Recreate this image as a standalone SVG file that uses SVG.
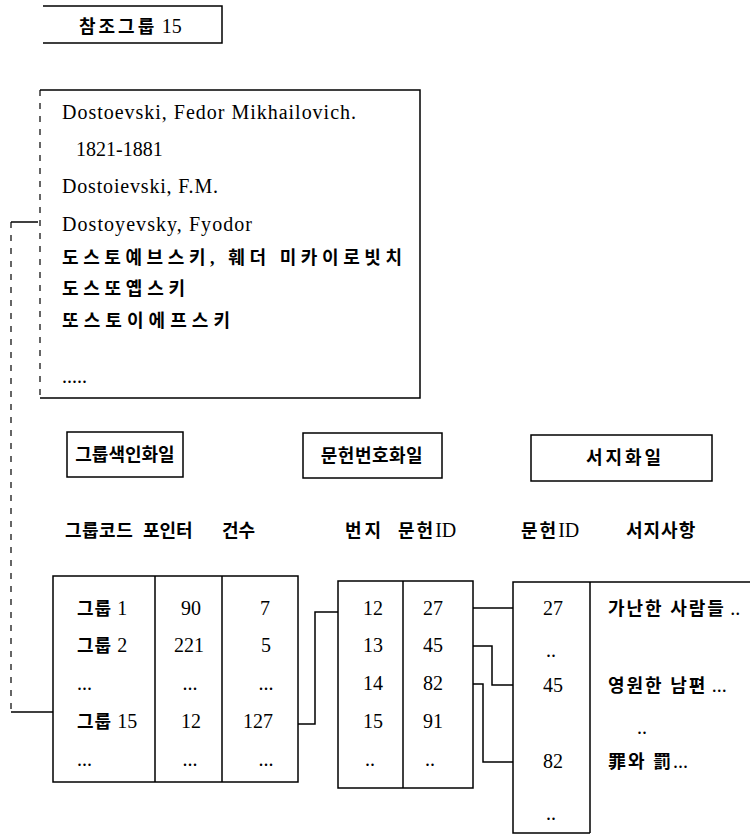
<svg xmlns="http://www.w3.org/2000/svg" width="750" height="837" viewBox="0 0 750 837">
<style>
.ln{stroke:#000;stroke-width:1.5;fill:none}
.dash{stroke:#000;stroke-width:1.2;fill:none;stroke-dasharray:6 7}
.t{font-family:"Liberation Serif","Noto Sans CJK KR",serif;font-size:20px;fill:#000}
.k{font-family:"Liberation Serif","Noto Sans CJK KR",sans-serif;font-size:18px;font-weight:bold;fill:#000}
.b{font-weight:bold;font-size:18px}
.n{font-weight:normal;font-size:20px;letter-spacing:0}
.m{text-anchor:middle}
</style>
<rect width="750" height="837" fill="#fff"/>
<g id="ref-group">
<path class="ln" d="M43,6 H222 V43 H43"/>
<text class="k" x="79" y="33"><tspan letter-spacing="3">참조그룹</tspan> <tspan class="n" font-size="19">15</tspan></text>
</g>
<g id="name-box">
<path class="ln" d="M40,90 H420 V398 H40"/>
<path class="dash" d="M40,90 V398"/>
<text class="t" x="62" y="119" textLength="294" lengthAdjust="spacing">Dostoevski, Fedor Mikhailovich.</text>
<text class="t" x="76" y="156">1821-1881</text>
<text class="t" x="62" y="193" textLength="156" lengthAdjust="spacing">Dostoievski, F.M.</text>
<text class="t" x="62" y="231" textLength="190" lengthAdjust="spacing">Dostoyevsky, Fyodor</text>
<text class="k" x="62" y="264" font-size="19" textLength="340" lengthAdjust="spacing">도스토예브스키, 훼더  미카이로빗치</text>
<text class="k" x="62" y="295" font-size="19" textLength="123" lengthAdjust="spacing">도스또옙스키</text>
<text class="k" x="62" y="327" font-size="19" textLength="168" lengthAdjust="spacing">또스토이에프스키</text>
<text class="t" x="62" y="383" font-size="12">.....</text>
</g>
<g id="group-index-label">
<rect class="ln" x="67" y="432" width="116" height="45"/>
<text class="k m" x="125" y="461" font-size="16">그룹색인화일</text>
</g>
<g id="doc-number-label">
<rect class="ln" x="303" y="433" width="139" height="45"/>
<text class="k m" x="372" y="462" font-size="16" letter-spacing="0.5">문헌번호화일</text>
</g>
<g id="biblio-label">
<rect class="ln" x="531" y="435" width="181" height="46"/>
<text class="k m" x="625" y="464" letter-spacing="3">서지화일</text>
</g>
<g id="headers">
<text class="k" x="65" y="537" letter-spacing="0.5">그룹코드</text>
<text class="k" x="143" y="537">포인터</text>
<text class="k" x="222" y="537">건수</text>
<text class="k" x="345" y="537" letter-spacing="3">번지</text>
<text class="k" x="398" y="537"><tspan letter-spacing="2">문헌</tspan><tspan class="n">ID</tspan></text>
<text class="k" x="521" y="537"><tspan letter-spacing="2">문헌</tspan><tspan class="n">ID</tspan></text>
<text class="k" x="626" y="537" letter-spacing="1">서지사항</text>
</g>
<g id="group-index-table">
<rect class="ln" x="53" y="576" width="245" height="206"/>
<path class="ln" d="M155,576 V782 M222,576 V782"/>
<text class="t" x="77" y="615"><tspan class="b" letter-spacing="1">그룹</tspan> 1</text>
<text class="t" x="77" y="652"><tspan class="b" letter-spacing="1">그룹</tspan> 2</text>
<text class="t" x="77" y="690" font-size="12">...</text>
<text class="t" x="77" y="728"><tspan class="b" letter-spacing="1">그룹</tspan> 15</text>
<text class="t" x="77" y="766" font-size="12">...</text>
<text class="t m" x="191" y="615">90</text>
<text class="t m" x="189" y="652">221</text>
<text class="t m" x="190" y="690" font-size="12">...</text>
<text class="t m" x="191" y="728">12</text>
<text class="t m" x="190" y="766" font-size="12">...</text>
<text class="t m" x="265" y="615">7</text>
<text class="t m" x="266" y="652">5</text>
<text class="t m" x="266" y="690" font-size="12">...</text>
<text class="t m" x="258" y="728">127</text>
<text class="t m" x="266" y="766" font-size="12">...</text>
</g>
<g id="doc-number-table">
<rect class="ln" x="338" y="581" width="135" height="207"/>
<path class="ln" d="M403,581 V788"/>
<text class="t m" x="373" y="615">12</text>
<text class="t m" x="373" y="652">13</text>
<text class="t m" x="373" y="690">14</text>
<text class="t m" x="373" y="728">15</text>
<text class="t m" x="370" y="766" font-size="12">..</text>
<text class="t m" x="433" y="615">27</text>
<text class="t m" x="433" y="652">45</text>
<text class="t m" x="433" y="690">82</text>
<text class="t m" x="433" y="728">91</text>
<text class="t m" x="430" y="766" font-size="12">..</text>
</g>
<g id="biblio-table">
<path class="ln" d="M750,582 H513 V833 H590 M590,582 V833"/>
<text class="t m" x="553" y="615">27</text>
<text class="t m" x="551" y="657" font-size="12">..</text>
<text class="t m" x="553" y="692">45</text>
<text class="t m" x="553" y="768">82</text>
<text class="t m" x="551" y="820" font-size="12">..</text>
<text class="k" x="608" y="615"><tspan letter-spacing="2">가난한 사람들</tspan> <tspan class="n">..</tspan></text>
<text class="k" x="608" y="692"><tspan letter-spacing="2">영원한 남편</tspan> <tspan class="n">...</tspan></text>
<text class="t" x="637" y="734" font-size="12">..</text>
<text class="k" x="608" y="768"><tspan letter-spacing="2">罪와 罰</tspan><tspan class="n">...</tspan></text>
</g>
<g id="connectors">
<path class="ln" d="M38,222 H11"/>
<path class="dash" d="M11,222 V712"/>
<path class="ln" d="M11,712 H53"/>
<path class="ln" d="M298,724 H315 V612 H338"/>
<path class="ln" d="M473,608 H513"/>
<path class="ln" d="M473,646 H492 V685 H513"/>
<path class="ln" d="M473,684 H483 V762 H513"/>
</g>
</svg>
